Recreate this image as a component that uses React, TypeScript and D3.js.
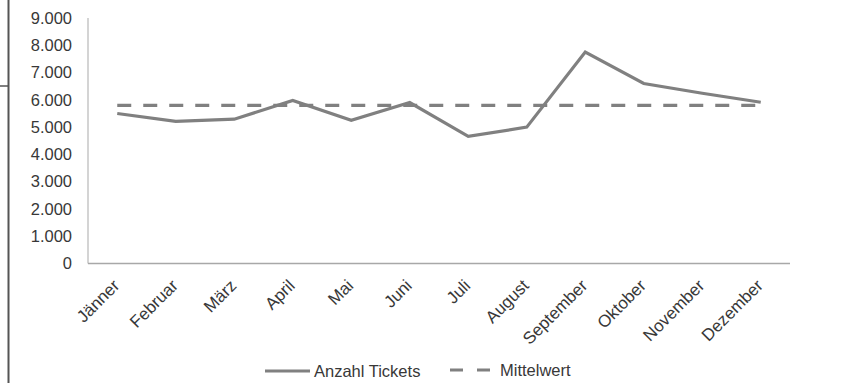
import React from "react";
import * as d3 from "d3";

// Monthly ticket counts and their average
const months = [
  "Jänner", "Februar", "März", "April", "Mai", "Juni",
  "Juli", "August", "September", "Oktober", "November", "Dezember",
];
const tickets = [5500, 5210, 5290, 5980, 5250, 5900, 4660, 5000, 7750, 6600, 6240, 5910];
const average = [5800, 5800, 5800, 5800, 5800, 5800, 5800, 5800, 5800, 5800, 5800, 5800];
const yTicks = [0, 1000, 2000, 3000, 4000, 5000, 6000, 7000, 8000, 9000];
const legendLabels = ["Anzahl Tickets", "Mittelwert"];

const W = 842;
const H = 385;
const plot = { left: 88, right: 790, top: 18, bottom: 263.5 };

const FONT = "'Liberation Sans', Arial, sans-serif";
const LINE = "#808080";
const TEXT = "#383838";

export default function App() {
  const x = d3
    .scaleBand<string>()
    .domain(months)
    .range([plot.left, plot.right]);
  const y = d3.scaleLinear().domain([0, 9000]).range([plot.bottom, plot.top]);
  const cx = (m: string) => (x(m) ?? 0) + x.bandwidth() / 2;

  const line = d3
    .line<number>()
    .x((_, i) => cx(months[i]))
    .y((v) => y(v));

  const fmt = (v: number) => d3.format(",")(v).replace(/,/g, ".");

  return (
    <svg
      width={W}
      height={H}
      style={{ position: "absolute", left: 0, top: 0, background: "#fff" }}
      fontFamily={FONT}
    >
      {/* page frame */}
      <line x1={8.5} y1={0} x2={8.5} y2={383} stroke="#555" strokeWidth={2} />
      <line x1={0} y1={86} x2={8.5} y2={86} stroke="#555" strokeWidth={1.5} />

      {/* axes */}
      <line x1={plot.left} y1={plot.top} x2={plot.left} y2={plot.bottom} stroke="#b8b8b8" strokeWidth={1.2} />
      <line x1={plot.left} y1={plot.bottom} x2={plot.right} y2={plot.bottom} stroke="#a8a8a8" strokeWidth={1.5} />

      {yTicks.map((t) => (
        <text
          key={t}
          x={72}
          y={y(t)}
          dy="0.35em"
          textAnchor="end"
          fontSize={16.5}
          fill={TEXT}
        >
          {fmt(t)}
        </text>
      ))}

      {months.map((m) => (
        <text
          key={m}
          transform={`translate(${cx(m) - 1},${plot.bottom + 19}) rotate(-45)`}
          dy="0.35em"
          textAnchor="end"
          fontSize={17}
          fill={TEXT}
        >
          {m}
        </text>
      ))}

      {/* series */}
      <path d={line(average) ?? ""} fill="none" stroke={LINE} strokeWidth={3.2} strokeDasharray="14,12" />
      <path d={line(tickets) ?? ""} fill="none" stroke={LINE} strokeWidth={3.2} strokeLinejoin="miter" />

      {/* legend */}
      <g>
        <line x1={265} y1={371} x2={310} y2={371} stroke={LINE} strokeWidth={3.2} />
        <text x={314} y={371} dy="0.35em" fontSize={16.5} fill={TEXT}>
          {legendLabels[0]}
        </text>
        <line x1={450} y1={370} x2={497} y2={370} stroke={LINE} strokeWidth={3.2} strokeDasharray="13,14" />
        <text x={500} y={370} dy="0.35em" fontSize={16.5} fill={TEXT}>
          {legendLabels[1]}
        </text>
      </g>
    </svg>
  );
}
